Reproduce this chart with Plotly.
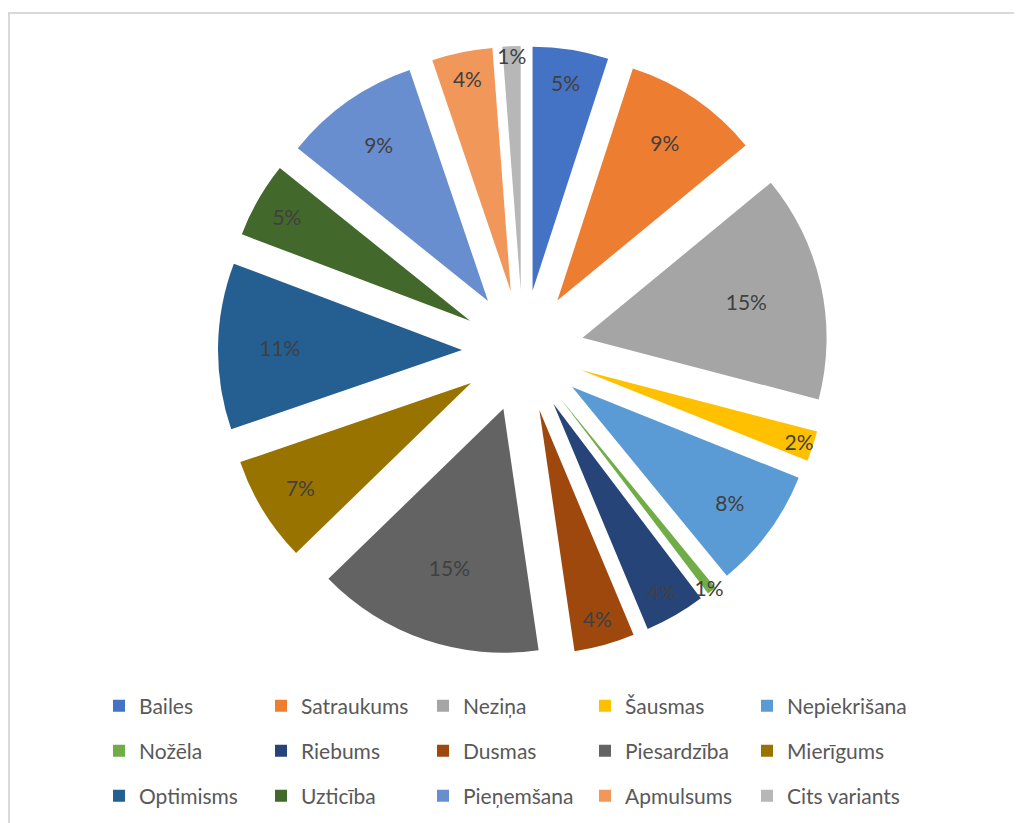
import plotly.graph_objects as go

labels = ["Bailes", "Satraukums", "Neziņa", "Šausmas", "Nepiekrišana",
          "Nožēla", "Riebums", "Dusmas", "Piesardzība", "Mierīgums",
          "Optimisms", "Uzticība", "Pieņemšana", "Apmulsums", "Cits variants"]
percents = [5, 9, 15, 2, 8, 0.6, 4, 4, 15, 7, 11, 5, 9, 4, 1.2]
colors = ["#4472C4", "#ED7D31", "#A5A5A5", "#FFC000", "#5B9BD5",
          "#70AD47", "#264478", "#9E480E", "#636363", "#997300",
          "#255E91", "#43682B", "#698ED0", "#F1975A", "#B7B7B7"]

fig = go.Figure(go.Pie(
    labels=labels,
    values=percents,
    sort=False,
    direction="clockwise",
    rotation=0,
    pull=0.25,
    marker=dict(colors=colors, line=dict(width=0)),
    texttemplate="%{percent:.0%}",
    textposition="inside",
    insidetextorientation="horizontal",
    textfont=dict(size=21, color="#404040", family="Lato"),
    hoverinfo="label+percent",
    showlegend=False,
))

# legend: 3 rows of 5, each row its own legend so the row gap can match
legend_names = ["legend", "legend2", "legend3"]
row_y = [698, 743, 788]
for i, (lab, col) in enumerate(zip(labels, colors)):
    fig.add_trace(go.Scatter(
        x=[None], y=[None], mode="markers", name=lab,
        marker=dict(symbol="square", size=12, color=col),
        legend=legend_names[i // 5], hoverinfo="skip",
    ))

legend_style = dict(
    orientation="h",
    xref="paper", yref="container",
    x=0.0289, xanchor="left", yanchor="middle",
    entrywidth=117, entrywidthmode="pixels",
    font=dict(size=21, color="#595959", family="Lato"),
    bgcolor="rgba(0,0,0,0)",
)
layout_legends = {}
for name, y in zip(legend_names, row_y):
    layout_legends[name] = dict(legend_style, y=1 - y / 823)

fig.update_layout(
    width=1022, height=823,
    paper_bgcolor="white",
    plot_bgcolor="white",
    font=dict(family="Lato", color="#595959"),
    margin=dict(l=65, r=57, t=38, b=175),
    uniformtext=dict(minsize=21, mode="show"),
    xaxis=dict(visible=False),
    yaxis=dict(visible=False),
    shapes=[dict(type="rect", xref="paper", yref="paper",
                 x0=-0.0711, x1=1.1, y0=-0.35, y1=1.054,
                 line=dict(color="#D9D9D9", width=2), layer="below")],
    **layout_legends,
)

fig.write_html("out.html")
